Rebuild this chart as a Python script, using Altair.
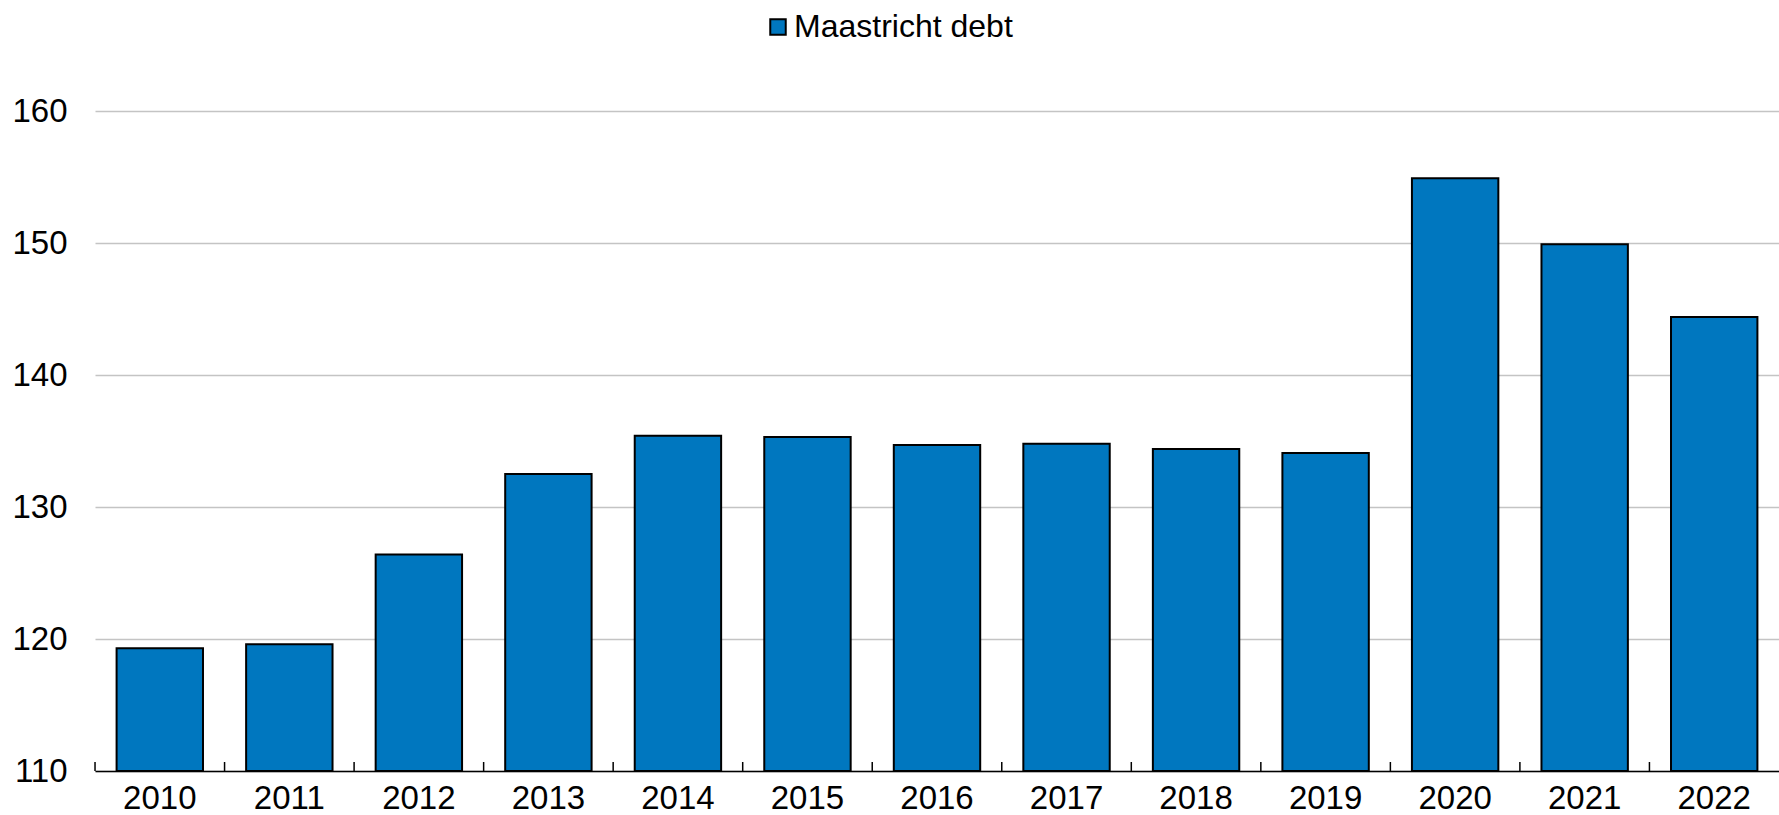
import altair as alt
import pandas as pd

years = ["2010", "2011", "2012", "2013", "2014", "2015", "2016",
         "2017", "2018", "2019", "2020", "2021", "2022"]
debt = [119.3, 119.6, 126.4, 132.5, 135.4, 135.3, 134.7,
        134.8, 134.4, 134.1, 154.9, 149.9, 144.4]
series_name = "Maastricht debt"
y_ticks = [110, 120, 130, 140, 150, 160]
y_base = 110
tick_top = 110.68

df = pd.DataFrame({"year": years, "value": debt, "series": [series_name] * len(years)})

FONT = "Liberation Sans, Arial, sans-serif"
W, H = 1684, 660
PAD_INNER, PAD_OUTER = 0.333, 0.1667
STEP = W / (len(years) - PAD_INNER + 2 * PAD_OUTER)
HALF_GAP = PAD_INNER * STEP / 2

x_enc = alt.X(
    "year:O",
    title=None,
    sort=years,
    scale=alt.Scale(paddingInner=PAD_INNER, paddingOuter=PAD_OUTER),
    axis=alt.Axis(
        labelAngle=0, labelFontSize=33, labelFont=FONT, labelColor="black",
        ticks=False, tickSize=0, labelPadding=11, domainColor="black",
        domainWidth=1.4, grid=False, zindex=1,
    ),
)

y_scale = alt.Scale(domain=[110, 160], zero=False, nice=False)

bars = alt.Chart(df).mark_bar(stroke="black", strokeWidth=2).encode(
    x=x_enc,
    y=alt.Y(
        "value:Q",
        title=None,
        scale=y_scale,
        axis=alt.Axis(
            values=y_ticks, labelFontSize=33, labelFont=FONT, labelColor="black",
            domain=False, ticks=False, tickSize=0, labelPadding=28,
            gridColor="#c4c4c4", gridWidth=1.6,
        ),
    ),
    y2=alt.datum(y_base),
    color=alt.Color(
        "series:N",
        scale=alt.Scale(range=["#0077BF"]),
        legend=alt.Legend(
            title=None, orient="none", legendX=667, legendY=-100,
            symbolType="square", symbolSize=240, symbolStrokeColor="black",
            symbolStrokeWidth=2, labelFontSize=32, labelFont=FONT,
            labelColor="black", labelOffset=0, padding=0, labelLimit=0,
        ),
    ),
)

# category-boundary ticks (half a gap before each bar)
ticks = alt.Chart(df).mark_rule(color="black", strokeWidth=1.5, xOffset=-HALF_GAP).encode(
    x=alt.X("year:O", sort=years, bandPosition=0),
    y=alt.datum(tick_top),
    y2=alt.datum(y_base),
)

chart = (
    alt.layer(bars, ticks)
    .properties(
        width=W, height=H,
        autosize=alt.AutoSizeParams(type="none"),
        padding={"left": 95, "top": 111, "right": 0, "bottom": 44},
        background="white",
    )
    .configure_view(stroke=None)
)

chart.save("out.html", embed_options={"renderer": "svg", "actions": False})
